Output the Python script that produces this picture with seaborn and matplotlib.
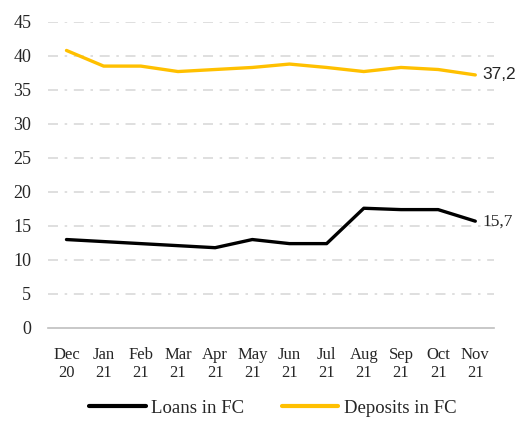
import matplotlib
matplotlib.use("Agg")
import matplotlib.pyplot as plt
import seaborn as sns
import pandas as pd
import numpy as np

months = ["Dec\n20", "Jan\n21", "Feb\n21", "Mar\n21", "Apr\n21", "May\n21",
          "Jun\n21", "Jul\n21", "Aug\n21", "Sep\n21", "Oct\n21", "Nov\n21"]
loans = [13.0, 12.7, 12.4, 12.1, 11.8, 13.0, 12.4, 12.4, 17.6, 17.4, 17.4, 15.7]
deposits = [40.8, 38.5, 38.5, 37.7, 38.0, 38.3, 38.8, 38.3, 37.7, 38.3, 38.0, 37.2]

sns.set_theme(style="white")
plt.rcParams['font.family'] = ['Liberation Serif', 'DejaVu Serif']

df = pd.DataFrame({
    "x": list(range(len(months))) * 2,
    "value": loans + deposits,
    "series": ["Loans in FC"] * len(months) + ["Deposits in FC"] * len(months),
})

fig = plt.figure(figsize=(5.15, 4.21), dpi=100)
ax = fig.add_axes([0.093, 0.221, 0.866, 0.727])

sns.lineplot(data=df, x="x", y="value", hue="series",
             palette={"Loans in FC": "#000000", "Deposits in FC": "#FFC000"},
             linewidth=2.4, ax=ax, legend=False)

ax.set_xlim(-0.5, len(months) - 0.5)
ax.set_ylim(0, 45)
ax.set_yticks(range(0, 46, 5))
ax.set_xticks(range(len(months)))
ax.set_xticklabels(months, fontsize=12, linespacing=1.15)
ax.set_xticks(np.arange(-0.5, len(months), 1.0), minor=True)
ax.tick_params(axis='x', which='major', length=0, pad=14)
ax.tick_params(axis='x', which='minor', length=4, color='#BFBFBF', width=1, direction='out')
ax.tick_params(axis='y', length=0, labelsize=13, pad=12)
ax.set_xlabel("")
ax.set_ylabel("")

for y in range(5, 46, 5):
    ax.axhline(y, color='#D9D9D9', lw=1.2, ls=(0, (6, 4, 1.5, 4)), zorder=0)

for s in ["top", "right", "left"]:
    ax.spines[s].set_visible(False)
ax.spines["bottom"].set_color('#BFBFBF')
ax.spines["bottom"].set_linewidth(1.2)

ax.text(len(months) - 1 + 0.2, deposits[-1], "37,2", fontsize=12.5,
        family=['Liberation Sans', 'DejaVu Sans'], va='center', ha='left',
        clip_on=False)
ax.text(len(months) - 1 + 0.2, loans[-1], "15,7", fontsize=12.5,
        va='center', ha='left', clip_on=False)

from matplotlib.lines import Line2D
handles = [Line2D([0], [0], color='#000000', lw=3),
           Line2D([0], [0], color='#FFC000', lw=3)]
fig.legend(handles, ["Loans in FC", "Deposits in FC"], loc='lower center',
           bbox_to_anchor=(0.53, -0.03), ncol=2, frameon=False, fontsize=13.5,
           handlelength=3.0, columnspacing=2.0, handletextpad=0.3)

fig.savefig("out.png", dpi=100)
